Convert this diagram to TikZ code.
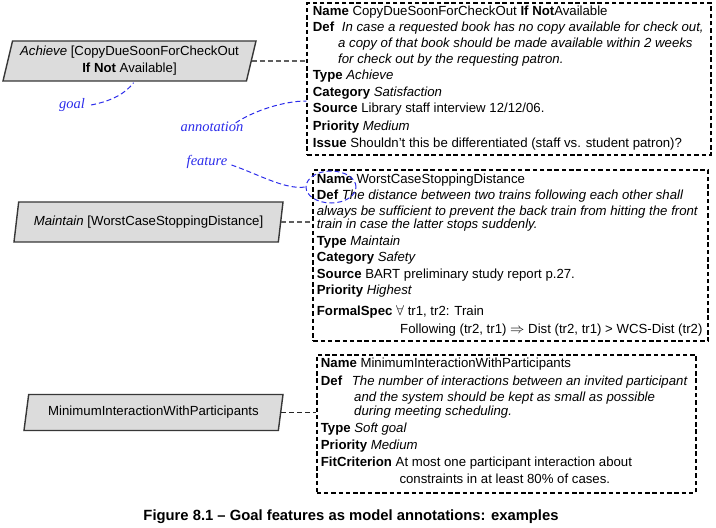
\documentclass[tikz,border=0pt]{standalone}
\usepackage{fontspec}
\setmainfont{Liberation Sans}
\newfontfamily\lblfont{Liberation Serif}
\usetikzlibrary{shapes.geometric,calc}
\definecolor{goalfill}{RGB}{220,220,220}
\definecolor{goalline}{RGB}{55,55,55}
\definecolor{annblue}{RGB}{45,45,235}
\definecolor{conngray}{RGB}{95,95,95}
\newcommand\bxf{\fontsize{13.2bp}{17bp}\selectfont}
\newcommand\lblf{\lblfont\itshape\fontsize{14.5bp}{17bp}\selectfont}
\tikzset{
  goal/.style={trapezium, trapezium left angle=74, trapezium right angle=106,
    trapezium stretches body, draw=goalline, line width=1.4bp, fill=goalfill,
    inner sep=2bp, align=center, font=\bxf},
  featbox/.style={draw=black, line width=1.8bp, dash pattern=on 4.5bp off 2.8bp, inner sep=0pt},
  ln/.style={anchor=base west, inner sep=0pt, font=\bxf},
  conn/.style={draw=conngray, line width=1.6bp, dash pattern=on 5bp off 3bp},
  ann/.style={draw=annblue, line width=1bp, dash pattern=on 5bp off 3bp},
  annlbl/.style={text=annblue, font=\lblf, inner sep=0pt},
  captext/.style={font=\fontsize{14.8bp}{17bp}\selectfont\bfseries, inner sep=0pt}
}
\begin{document}
\begin{tikzpicture}[x=1bp,y=-1bp]
\fill[white] (0,0) rectangle (716,528);
\useasboundingbox (0,0) rectangle (716,528);

% goals
\node[goal, minimum width=253bp, minimum height=40bp] (g1) at (129.5,61)
  {\textit{Achieve} [CopyDueSoonForCheckOut\\\textbf{If Not} Available]};
\node[goal, minimum width=269bp, minimum height=40bp] (g2) at (148.5,222)
  {\textit{Maintain} [WorstCaseStoppingDistance]};
\node[goal, minimum width=259bp, minimum height=36bp] (g3) at (153.5,412.5)
  {MinimumInteractionWithParticipants};

% feature boxes
\node[featbox, minimum width=403.4bp, minimum height=152bp] (b1) at (509,79) {};
\node[featbox, minimum width=395bp, minimum height=171bp] (b2) at (510.8,255.5) {};
\node[featbox, minimum width=379.3bp, minimum height=137.7bp] (b3) at (506.3,423.8) {};

% box 1 text
\node[ln] (b1n) at (312.7,16) {\textbf{Name} CopyDueSoonForCheckOut \textbf{If Not}Available};
\node[ln] (b1d) at (312.7,32) {\textbf{Def}};
\node[ln] (b1d1) at (341.7,32) {\textit{In case a requested book has no copy available for check out,}};
\node[ln] (b1d2) at (338,48) {\textit{a copy of that book should be made available within 2 weeks}};
\node[ln] (b1d3) at (338,63.5) {\textit{for check out by the requesting patron.}};
\node[ln] (b1t) at (312.7,79.5) {\textbf{Type} \textit{Achieve}};
\node[ln] (b1c) at (312.7,96.7) {\textbf{Category} \textit{Satisfaction}};
\node[ln] (b1s) at (312.7,112.7) {\textbf{Source} Library staff interview 12/12/06.};
\node[ln] (b1p) at (312.7,130.7) {\textbf{Priority} \textit{Medium}};
\node[ln] (b1i) at (312.7,147.7) {\textbf{Issue} Shouldn't this be differentiated (staff vs. student patron)?};

% box 2 text
\node[ln] (b2n) at (316.7,183.3) {\textbf{Name} WorstCaseStoppingDistance};
\node[ln] (b2d) at (316.7,200) {\textbf{Def} \textit{The distance between two trains following each other shall}};
\node[ln] (b2d2) at (316.7,215.5) {\textit{always be sufficient to prevent the back train from hitting the front}};
\node[ln] (b2d3) at (316.7,229) {\textit{train in case the latter stops suddenly.}};
\node[ln] (b2t) at (316.7,246) {\textbf{Type} \textit{Maintain}};
\node[ln] (b2c) at (316.7,261.7) {\textbf{Category} \textit{Safety}};
\node[ln] (b2s) at (316.7,279) {\textbf{Source} BART preliminary study report p.27.};
\node[ln] (b2p) at (316.7,294) {\textbf{Priority} \textit{Highest}};
\node[ln] (b2f) at (316.7,315.5) {\textbf{FormalSpec} $\forall$ tr1, tr2: Train};
\node[ln] (b2f2) at (400,333) {Following (tr2, tr1) $\Rightarrow$ Dist (tr2, tr1) > WCS-Dist (tr2)};

% box 3 text
\node[ln] (b3n) at (320.7,367.5) {\textbf{Name} MinimumInteractionWithParticipants};
\node[ln] (b3d) at (320.7,385) {\textbf{Def}};
\node[ln] (b3d1) at (351.7,385) {\textit{The number of interactions between an invited participant}};
\node[ln] (b3d2) at (354,401) {\textit{and the system should be kept as small as possible}};
\node[ln] (b3d3) at (354,415.5) {\textit{during meeting scheduling.}};
\node[ln] (b3t) at (320.7,432) {\textbf{Type} \textit{Soft goal}};
\node[ln] (b3p) at (320.7,449.5) {\textbf{Priority} \textit{Medium}};
\node[ln] (b3f) at (320.7,466) {\textbf{FitCriterion} At most one participant interaction about};
\node[ln] (b3f2) at (399.3,483) {constraints in at least 80\% of cases.};

% goal-to-annotation connectors
\draw[conn] (g1.east) -- (g1.east -| b1.west);
\draw[conn] (g2.east) -- (g2.east -| b2.west);
\draw[conn, draw=black!85] (g3.east) -- (g3.east -| b3.west);

% explanatory labels
\node[annlbl] (lgoal) at (72,105) {goal};
\node[annlbl] (lann) at (212,127) {annotation};
\node[annlbl] (lfeat) at (207,162) {feature};
\node[ellipse, ann, minimum width=50bp, minimum height=32bp, inner sep=0pt] (fe) at (331,187) {};

\draw[ann] ($(lgoal.east)+(6,0)$) .. controls (112,101) and (126,93) .. ($(g1.south)+(4,1)$);
\draw[ann] ($(lann.north east)+(-8,1)$) .. controls (255,110) and (285,101) .. ($(b1.west)+(0,22)$);
\draw[ann] ($(lfeat.east)+(4,3)$) .. controls (258,174) and (285,190) .. (fe.west);

% caption
\node[captext] (caption) at (351,517) {Figure 8.1 -- Goal features as model annotations: examples};
\end{tikzpicture}
\end{document}
